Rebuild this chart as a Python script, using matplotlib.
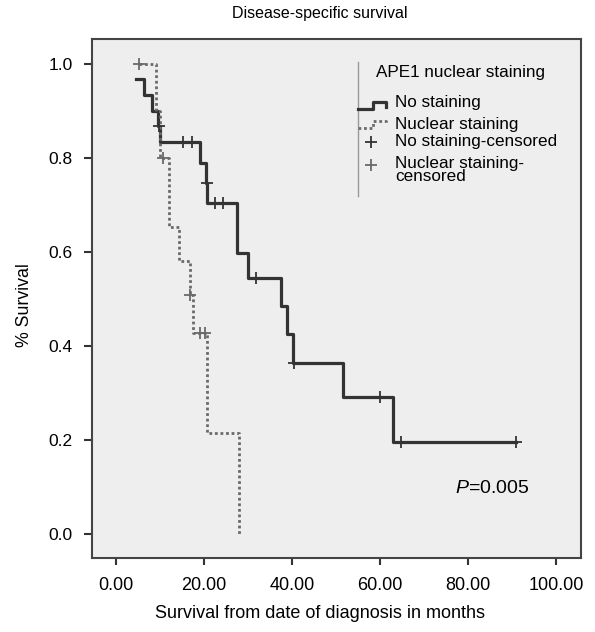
import numpy as np
import matplotlib
matplotlib.use('Agg')
import matplotlib.pyplot as plt
import matplotlib as mpl

mpl.rcParams['font.family'] = ['Liberation Sans', 'DejaVu Sans']
mpl.rcParams['mathtext.fontset'] = 'custom'
mpl.rcParams['mathtext.rm'] = 'Liberation Sans'
mpl.rcParams['mathtext.it'] = 'Liberation Sans:italic'

# Kaplan-Meier step points
no_t = [4.5, 6.4, 8.3, 9.5, 10.0, 19.1, 20.5, 20.8, 27.5, 30.0, 37.5, 38.9, 40.2, 51.6, 62.9, 90.9]
no_s = [0.967, 0.933, 0.900, 0.867, 0.833, 0.790, 0.747, 0.704, 0.598, 0.545, 0.485, 0.425, 0.363, 0.291, 0.195, 0.195]
no_cens_t = [9.8, 15.2, 17.3, 20.6, 22.5, 24.3, 31.8, 40.4, 60.0, 64.8, 90.9]
no_cens_s = [0.867, 0.833, 0.833, 0.747, 0.704, 0.704, 0.545, 0.363, 0.291, 0.195, 0.195]

nuc_t = [5.2, 9.2, 10.0, 12.0, 14.4, 16.8, 17.5, 20.7, 28.0]
nuc_s = [1.0, 0.900, 0.800, 0.653, 0.581, 0.509, 0.428, 0.215, 0.0]
nuc_cens_t = [5.2, 10.8, 16.9, 19.1, 20.3]
nuc_cens_s = [1.0, 0.800, 0.509, 0.428, 0.428]

xticks = [0, 20, 40, 60, 80, 100]
yticks = [0.0, 0.2, 0.4, 0.6, 0.8, 1.0]

solid_c = '#333333'
dot_c = '#6a6a6a'

fig = plt.figure(figsize=(5.95, 6.32), dpi=100)
ax = fig.add_axes([0.1546, 0.1171, 0.8219, 0.8212])
ax.set_facecolor('#eeeeee')

ax.step(no_t, no_s, where='post', color=solid_c, lw=2.3)
ax.step(nuc_t, nuc_s, where='post', color=dot_c, lw=2.0, linestyle=(0, (1, 1)))
ax.plot(no_cens_t, no_cens_s, '+', color=solid_c, ms=8, mew=1.3, ls='none')
ax.plot(nuc_cens_t, nuc_cens_s, '+', color=dot_c, ms=8, mew=1.3, ls='none')

ax.set_xlim(-5.45, 105.7)
ax.set_ylim(-0.051, 1.053)
ax.set_xticks(xticks)
ax.set_xticklabels(['%.2f' % v for v in xticks])
ax.set_yticks(yticks)
ax.set_yticklabels(['%.1f' % v for v in yticks])
ax.tick_params(axis='x', direction='out', length=5, width=1.5, color='#333333', labelsize=13, pad=9)
ax.tick_params(axis='y', direction='out', length=6, width=1.5, color='#333333', labelsize=12.5, pad=8)

for sp in ax.spines.values():
    sp.set_color('#444444')
    sp.set_linewidth(1.5)

fig.text(0.538, 0.030, 'Survival from date of diagnosis in months', fontsize=13, ha='center', va='center')
fig.text(0.042, 0.517, '% Survival', fontsize=12.8, ha='center', va='center', rotation=90)
fig.text(0.538, 0.979, 'Disease-specific survival', fontsize=11.5, ha='center', va='center')

ax.text(77.0, 0.096, r'$\it{P}$=0.005', fontsize=14, ha='left', va='center')

# legend drawn by hand
def px(x, y):
    return ((x - 92) / 489.0, (558 - y) / 519.0)

tr = ax.transAxes
x0, y0 = px(358, 62)
x1, y1 = px(358, 196)
ax.plot([x0, x1], [y0, y1], color='#999999', lw=1.0, transform=tr)
tx, ty = px(376, 73)
ax.text(tx, ty, 'APE1 nuclear staining', fontsize=12.3, transform=tr, va='center')

pts = [px(*p) for p in [(358, 109), (373, 109), (373, 102), (386, 102), (386, 107)]]
ax.plot([p[0] for p in pts], [p[1] for p in pts], color=solid_c, lw=2.3, transform=tr)
pts = [px(*p) for p in [(358, 128), (373, 128), (373, 121), (386, 121), (386, 124)]]
ax.plot([p[0] for p in pts], [p[1] for p in pts], color=dot_c, lw=2.0, ls=(0, (1, 1)), transform=tr)
mx, my = px(371, 142)
ax.plot([mx], [my], '+', color=solid_c, ms=9, mew=1.3, transform=tr)
mx, my = px(371, 165)
ax.plot([mx], [my], '+', color=dot_c, ms=9, mew=1.3, transform=tr)

labels = ['No staining', 'Nuclear staining', 'No staining-censored', 'Nuclear staining-\ncensored']
ys = [103, 125, 142, 170]
for lab, yy in zip(labels, ys):
    lx, ly = px(395, yy)
    ax.text(lx, ly, lab, fontsize=12.3, transform=tr, va='center', linespacing=0.85)

fig.savefig('out.png', dpi=100)
